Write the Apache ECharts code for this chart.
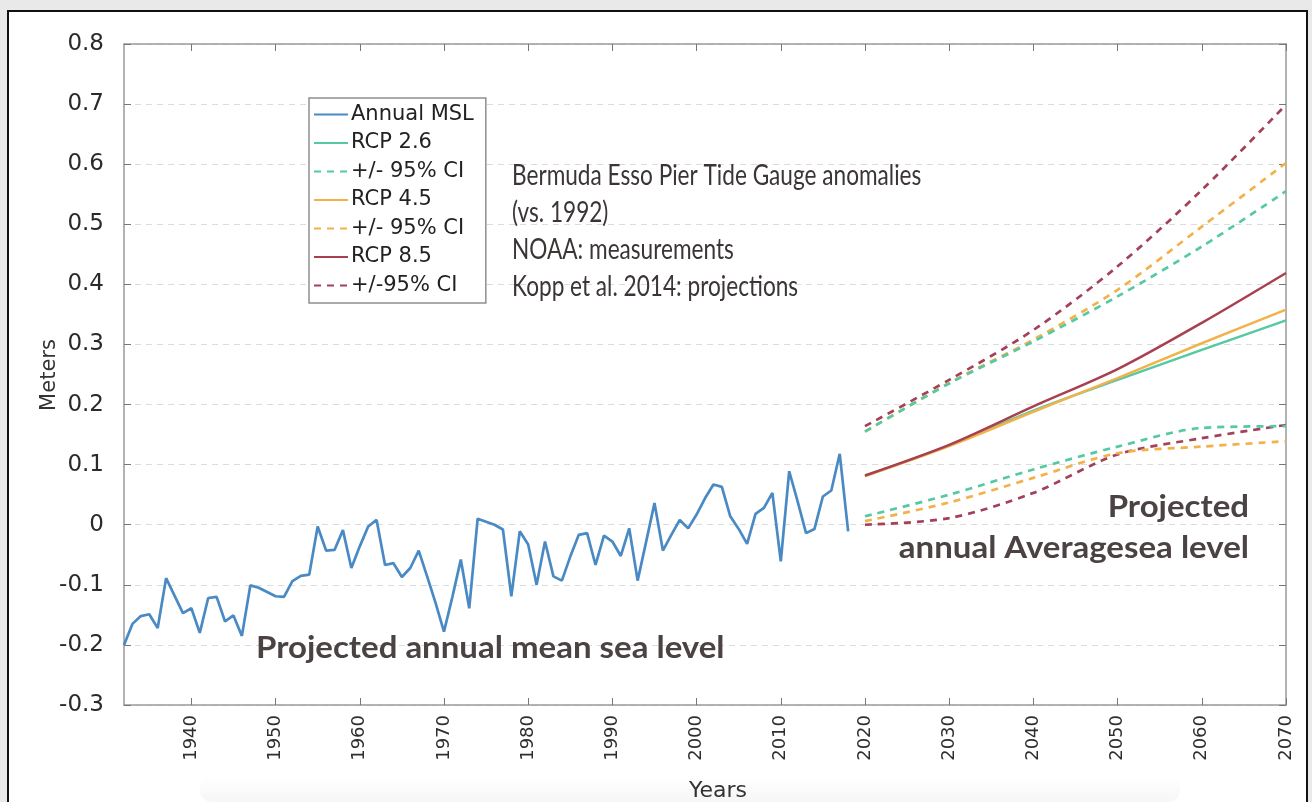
<!DOCTYPE html>
<html>
<head>
<meta charset="utf-8">
<script src="https://cdn.jsdelivr.net/npm/echarts@6/dist/echarts.min.js"></script>
<style>
  html, body { margin: 0; padding: 0; background: #e9e9e9; }
  #chart { width: 1312px; height: 802px; }
</style>
</head>
<body>
<div id="chart"></div>
<script>
// ---------- data ----------
const years = [1932,1933,1934,1935,1936,1937,1938,1939,1940,1941,1942,1943,1944,1945,1946,1947,1948,1949,
  1950,1951,1952,1953,1954,1955,1956,1957,1958,1959,1960,1961,1962,1963,1964,1965,1966,1967,1968,1969,
  1970,1971,1972,1973,1974,1975,1976,1977,1978,1979,1980,1981,1982,1983,1984,1985,1986,1987,1988,1989,
  1990,1991,1992,1993,1994,1995,1996,1997,1998,1999,2000,2001,2002,2003,2004,2005,2006,2007,2008,2009,
  2010,2011,2012,2013,2014,2015,2016,2017,2018];
const annualMSL = [-0.200,-0.165,-0.152,-0.149,-0.172,-0.089,-0.118,-0.147,-0.139,-0.180,-0.122,-0.120,-0.161,-0.151,-0.185,-0.101,-0.105,-0.112,
  -0.119,-0.120,-0.094,-0.085,-0.083,-0.003,-0.043,-0.042,-0.009,-0.072,-0.036,-0.003,0.008,-0.067,-0.064,-0.087,-0.072,-0.043,-0.086,-0.130,
  -0.178,-0.120,-0.058,-0.139,0.010,0.005,0.000,-0.008,-0.119,-0.011,-0.033,-0.100,-0.028,-0.086,-0.093,-0.053,-0.017,-0.014,-0.067,-0.018,
  -0.028,-0.052,-0.006,-0.093,-0.029,0.036,-0.043,-0.017,0.008,-0.006,0.017,0.044,0.067,0.063,0.014,-0.007,-0.032,0.018,0.028,0.053,
  -0.061,0.089,0.039,-0.014,-0.007,0.047,0.057,0.118,-0.011];

const projYears  = [2020, 2030, 2040, 2050, 2060, 2070];
const rcp26      = [0.081, 0.132, 0.190, 0.241, 0.291, 0.340];
const rcp26Upper = [0.155, 0.235, 0.305, 0.380, 0.463, 0.555];
const rcp26Lower = [0.014, 0.050, 0.092, 0.130, 0.161, 0.164];
const rcp45      = [0.081, 0.131, 0.188, 0.244, 0.302, 0.358];
const rcp45Upper = [0.155, 0.236, 0.308, 0.391, 0.496, 0.602];
const rcp45Lower = [0.006, 0.037, 0.078, 0.119, 0.130, 0.139];
const rcp85      = [0.082, 0.133, 0.197, 0.259, 0.336, 0.419];
const rcp85Upper = [0.164, 0.241, 0.324, 0.430, 0.557, 0.699];
const rcp85Lower = [0.000, 0.011, 0.053, 0.117, 0.144, 0.166];

const xTicks = [1940,1950,1960,1970,1980,1990,2000,2010,2020,2030,2040,2050,2060,2070];
const legendNames = ['Annual MSL','RCP 2.6','+/- 95% CI','RCP 4.5','+/- 95% CI ','RCP 8.5','+/-95% CI'];

// ---------- helpers ----------
const pairs = (xs, ys) => xs.map((x, i) => [x, ys[i]]);
const C_BLUE = '#4a8ac4', C_GREEN = '#55c9a2', C_ORANGE = '#f1b24a', C_RED = '#a8404f', C_REDD = '#a3405a';

function solid(name, data, color, z) {
  return { name, type: 'line', data, symbol: 'none', smooth: 0.3, z: z || 3,
    lineStyle: { color, width: 2.5 }, itemStyle: { color } };
}
function dashed(name, data, color) {
  return { name, type: 'line', data, symbol: 'none', smooth: 0.3, z: 2,
    lineStyle: { color, width: 2.7, type: [7, 6] }, itemStyle: { color } };
}

const axisCol = '#9a9a9a';
const xCommon = {
  type: 'value', min: 1932, max: 2070,
  axisLine: { show: true, onZero: false, lineStyle: { color: axisCol, width: 1.5 } },
  axisTick: { show: true, inside: true, length: 7, customValues: xTicks, lineStyle: { color: '#777' } },
  splitLine: { show: false }
};
const yCommon = {
  type: 'value', min: -0.3, max: 0.8, interval: 0.1,
  axisLine: { show: true, onZero: false, lineStyle: { color: axisCol, width: 1.5 } },
  axisTick: { show: true, inside: true, length: 7, lineStyle: { color: '#777' } }
};

const chart = echarts.init(document.getElementById('chart'), null, { renderer: 'canvas' });
chart.setOption({
  backgroundColor: '#e9e9e9',
  animation: false,
  grid: { left: 124, right: 26, top: 44, bottom: 97, containLabel: false, outerBoundsMode: 'none' },
  xAxis: [
    Object.assign({}, xCommon, {
      position: 'bottom',
      axisLabel: { show: true, rotate: 90, margin: 10, customValues: xTicks,
        formatter: v => String(v), fontFamily: 'DejaVu Sans', fontSize: 18, color: '#2e2e2e' }
    }),
    Object.assign({}, xCommon, { position: 'top', axisLabel: { show: false } })
  ],
  yAxis: [
    Object.assign({}, yCommon, {
      position: 'left',
      axisLabel: { show: true, margin: 20, fontFamily: 'DejaVu Sans', fontSize: 23, color: '#2a2a2a',
        formatter: v => String(Math.round(v * 10) / 10) },
      splitLine: { show: true, lineStyle: { color: '#dcdcdc', width: 1.2, type: [6, 5] } }
    }),
    Object.assign({}, yCommon, { position: 'right', axisLabel: { show: false }, splitLine: { show: false } })
  ],
  legend: {
    orient: 'vertical', left: 309, top: 98,
    data: legendNames,
    itemWidth: 34, itemHeight: 14, itemGap: 7.5,
    itemStyle: { opacity: 0 },
    backgroundColor: '#fff', borderColor: '#8f8f8f', borderWidth: 1.5,
    padding: [6, 12, 7, 4],
    selectedMode: false,
    textStyle: { fontFamily: 'DejaVu Sans', fontSize: 21, color: '#222', padding: [0, 0, 0, -2] }
  },
  graphic: [
    { type: 'rect', z: -100, silent: true, shape: { x: 8, y: 11, width: 1299, height: 800 },
      style: { fill: '#fff', stroke: '#111', lineWidth: 2 } },
    { type: 'rect', z: -99, silent: true, shape: { x: 200, y: 776, width: 980, height: 26, r: 12 },
      style: { fill: { type: 'linear', x: 0, y: 0, x2: 0, y2: 1,
        colorStops: [{ offset: 0, color: 'rgba(0,0,0,0)' }, { offset: 1, color: 'rgba(0,0,0,0.035)' }] } } },
    { type: 'text', x: 512, y: 157, scaleX: 0.78, silent: true, z: 10,
      style: { text: 'Bermuda Esso Pier Tide Gauge anomalies\n(vs. 1992)\nNOAA: measurements\nKopp et al. 2014: projections',
        font: '29px Lato', fill: '#3b3535', lineHeight: 37, textVerticalAlign: 'top' } },
    { type: 'text', x: 256, y: 648, scaleX: 1.1, silent: true, z: 10,
      style: { text: 'Projected annual mean sea level', font: 'bold 30px Lato', fill: '#4b4343',
        textVerticalAlign: 'middle' } },
    { type: 'text', x: 1249, y: 487, scaleX: 1.1, silent: true, z: 10,
      style: { text: 'Projected\nannual Averagesea level', font: 'bold 30px Lato', fill: '#4b4343',
        textAlign: 'right', lineHeight: 41, textVerticalAlign: 'top' } },
    { type: 'text', x: 50, y: 375, rotation: Math.PI / 2, silent: true, z: 10,
      style: { text: 'Meters', font: '21px "DejaVu Sans"', fill: '#333', textAlign: 'center', textVerticalAlign: 'middle' } },
    { type: 'text', x: 718, y: 791, silent: true, z: 10,
      style: { text: 'Years', font: '22px "DejaVu Sans"', fill: '#333', textAlign: 'center', textVerticalAlign: 'middle' } }
  ],
  series: [
    dashed('+/-95% CI', pairs(projYears, rcp85Upper), C_REDD),
    dashed('+/-95% CI', pairs(projYears, rcp85Lower), C_REDD),
    dashed('+/- 95% CI ', pairs(projYears, rcp45Upper), C_ORANGE),
    dashed('+/- 95% CI ', pairs(projYears, rcp45Lower), C_ORANGE),
    dashed('+/- 95% CI', pairs(projYears, rcp26Upper), C_GREEN),
    dashed('+/- 95% CI', pairs(projYears, rcp26Lower), C_GREEN),
    solid('RCP 2.6', pairs(projYears, rcp26), C_GREEN, 3),
    solid('RCP 4.5', pairs(projYears, rcp45), C_ORANGE, 4),
    solid('RCP 8.5', pairs(projYears, rcp85), C_RED, 5),
    { name: 'Annual MSL', type: 'line', data: pairs(years, annualMSL), symbol: 'none', z: 6,
      lineStyle: { color: C_BLUE, width: 2.7 }, itemStyle: { color: C_BLUE } }
  ]
});
</script>
</body>
</html>
